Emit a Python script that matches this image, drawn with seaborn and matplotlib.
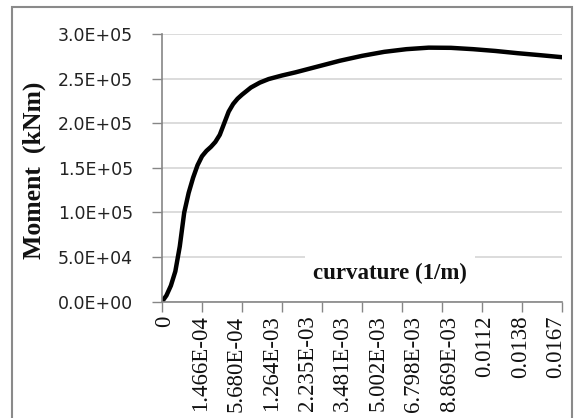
import matplotlib
matplotlib.use("Agg")
import matplotlib.pyplot as plt
import matplotlib.patches as patches
from matplotlib.transforms import ScaledTranslation
import seaborn as sns
import pandas as pd

# ---- data ----
# category index along the (evenly spaced) category axis
category_index = [0, 1, 2, 3, 4, 5, 6, 7, 8, 9, 10, 11, 12, 13, 14, 15, 16, 17, 18,
                  20, 22, 24, 27, 30, 35, 40, 45, 50, 55, 60, 65, 70, 75, 80, 85, 90]
moment_kNm = [0, 7000, 18000, 34000, 62000, 100000, 122000, 139000, 153000, 163000,
              169000, 173500, 179000, 187000, 200000, 213000, 221500, 227500, 232000,
              240000, 245500, 249500, 253500, 257000, 263500, 270000, 275500, 280000,
              283000, 284700, 284500, 283000, 281000, 278500, 276300, 274000]
curvature_labels = ["0", "1.466E-04", "5.680E-04", "1.264E-03", "2.235E-03",
                    "3.481E-03", "5.002E-03", "6.798E-03", "8.869E-03",
                    "0.0112", "0.0138", "0.0167"]
label_step = 8      # categories between labels
tick_step = 9       # categories between tick marks
n_categories = 90
y_ticks = [0, 50000, 100000, 150000, 200000, 250000, 300000]
y_tick_labels = ["0.0E+00", "5.0E+04", "1.0E+05", "1.5E+05", "2.0E+05", "2.5E+05", "3.0E+05"]

df = pd.DataFrame({"idx": category_index, "moment": moment_kNm})

sns.set_theme(style="white")
W, H = 576, 418
fig = plt.figure(figsize=(W / 100, H / 100), dpi=100)
fig.patch.set_facecolor("white")

ax = fig.add_axes([162 / W, 1 - 301.7 / H, (562 - 162) / W, (301.7 - 34) / H])
ax.set_facecolor("white")

sns.lineplot(data=df, x="idx", y="moment", color="black", linewidth=3.2, ax=ax)
for ln in ax.lines:
    ln.set_solid_joinstyle("round")
    ln.set_solid_capstyle("round")

ax.set_xlim(0, n_categories)
ax.set_ylim(0, 300000)

# y axis
ax.set_yticks(y_ticks)
ax.set_yticklabels(y_tick_labels, fontfamily="DejaVu Sans", fontsize=12.5, color="#222222")
ax.yaxis.grid(True, color="#d9d9d9", linewidth=1.3)
ax.set_axisbelow(True)

# x axis: tick marks every tick_step categories, labels every label_step categories
ax.xaxis.remove_overlapping_locs = False
major_locs = list(range(0, n_categories + 1, tick_step))
ax.set_xticks(major_locs)
ax.set_xticklabels([""] * len(major_locs))
ax.set_xticks([i * label_step for i in range(len(curvature_labels))], minor=True)
ax.set_xticklabels(curvature_labels, minor=True, rotation=90,
                   fontfamily="Liberation Serif", fontsize=16.5, color="#111111",
                   va="top", ha="center")
ax.tick_params(axis="x", which="major", direction="out", length=7, width=1,
               color="#868686", bottom=True)
ax.tick_params(axis="x", which="minor", length=0, pad=10, bottom=True)
ax.tick_params(axis="y", which="major", direction="out", length=7, width=1,
               color="#868686", left=True, pad=14)
for lbl in ax.get_xticklabels(minor=True):
    lbl.set_transform(lbl.get_transform() + ScaledTranslation(3 / 100, 0, fig.dpi_scale_trans))

for s in ["top", "right"]:
    ax.spines[s].set_visible(False)
for s in ["left", "bottom"]:
    ax.spines[s].set_color("#868686")
    ax.spines[s].set_linewidth(1.2)

ax.set_xlabel("")
ax.set_ylabel("")

# axis titles
fig.text(34 / W, 1 - 170 / H, "Moment  (kNm)", rotation=90, ha="center", va="center",
         fontfamily="Liberation Serif", fontweight="bold", fontsize=18.5, color="#111111")
fig.text(390 / W, 1 - 273 / H, "curvature (1/m)", ha="center", va="center",
         fontfamily="Liberation Serif", fontweight="bold", fontsize=16.5, color="#111111",
         bbox=dict(facecolor="white", edgecolor="none", pad=6))

# outer chart border
fig.patches.append(patches.Rectangle((12 / W, -0.05), (572 - 12) / W, 1 - 7 / H + 0.05,
                                     transform=fig.transFigure, fill=False,
                                     edgecolor="#8a8a8a", linewidth=1.5))

fig.savefig("out.png", dpi=100, facecolor="white")
